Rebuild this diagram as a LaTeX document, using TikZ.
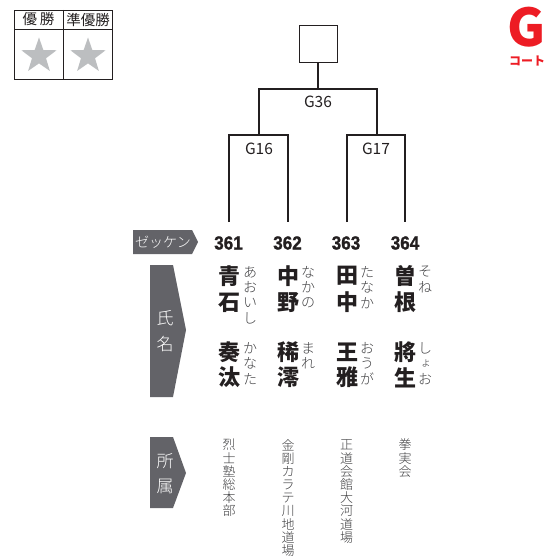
\documentclass[tikz,border=0pt]{standalone}
\usepackage{fontspec}
\setmainfont{Noto Sans CJK JP}
\newfontfamily\jpblack[UprightFont={* Black}]{Noto Sans CJK JP}
\newfontfamily\jplight[UprightFont={* Light}]{Noto Sans CJK JP}
\newfontfamily\numfont[FakeBold=1.2]{Liberation Sans Bold}
\usetikzlibrary{shapes.geometric}
\definecolor{badge}{HTML}{636368}
\definecolor{starc}{HTML}{BCBEC0}
\definecolor{redc}{HTML}{ED1C24}
\definecolor{ink}{HTML}{231F20}
\definecolor{kana}{HTML}{404042}
\tikzset{
  line/.style={draw=ink,line width=1.8pt},
  thin box/.style={draw=ink,line width=0.8pt},
  arrow badge/.style={fill=badge,draw=none},
  star mark/.style={star,star points=5,star point ratio=2.5,fill=starc,draw=none,inner sep=0pt,minimum size=37pt},
  head/.style={inner sep=0pt,text=ink,font=\fontsize{14.5}{14.5}\selectfont},
  game/.style={inner sep=0pt,text=ink,font=\fontsize{15.5}{15.5}\selectfont},
  bib/.style={inner sep=0pt,text=ink,font=\numfont\fontsize{19}{19}\selectfont},
  kanji/.style={inner sep=0pt,text=ink,font=\jpblack\fontsize{22}{22}\selectfont},
  furi/.style={inner sep=0pt,text=kana,font=\jplight\fontsize{14}{14}\selectfont},
  aff/.style={inner sep=0pt,text=kana,font=\jplight\fontsize{13}{13}\selectfont},
  side/.style={inner sep=0pt,text=white,font=\jplight\fontsize{17}{17}\selectfont},
}
\newcommand{\vstack}[6]{% style, name, x, y, step, list
  \foreach \c [count=\i from 0] in {#6}{
    \node[#1] (#2-\i) at (#3,{#4+\i*#5}) {\c};
  }
}
\begin{document}
\begin{tikzpicture}[x=1pt,y=-1pt]
\useasboundingbox (0,0) rectangle (547,556);
% result table
\draw[thin box] (14,10) rectangle (112,79);
\draw[thin box] (14,29) -- (112,29);
\draw[thin box] (63,10) -- (63,79);
\node[head] (win) at (38.5,19.5) {優\hspace{3pt}勝};
\node[head] (second) at (88,19.5) {準優勝};
\node[star mark] (star1) at (39,56) {};
\node[star mark] (star2) at (88,56) {};
% court mark
\node[inner sep=0pt,text=redc] (court) at (527,27) {\jpblack\fontsize{52}{52}\selectfont G};
\node[inner sep=0pt,text=redc] (courtlabel) at (527,61.5) {\jpblack\fontsize{12}{12}\selectfont コート};
% bracket
\node[draw=ink,line width=1pt,minimum width=38pt,minimum height=37pt,inner sep=0pt] (champ) at (318,44.5) {};
\coordinate (j36) at (318,89);
\coordinate (c16) at (259,89);
\coordinate (c17) at (377,89);
\coordinate (j16) at (259,135);
\coordinate (j17) at (377,135);
\coordinate (l1) at (229,135);
\coordinate (l2) at (288,135);
\coordinate (l3) at (347,135);
\coordinate (l4) at (405,135);
\coordinate (e1) at (229,222);
\coordinate (e2) at (288,222);
\coordinate (e3) at (347,222);
\coordinate (e4) at (405,222);
\node[game] (g36) at (318,102) {G36};
\node[game] (g16) at (259,149) {G16};
\node[game] (g17) at (376,149) {G17};
\node[bib] (b1) at (228.5,243) {\scalebox{0.9}[1]{361}};
\node[bib] (b2) at (287.5,243) {\scalebox{0.9}[1]{362}};
\node[bib] (b3) at (346,243) {\scalebox{0.9}[1]{363}};
\node[bib] (b4) at (405,243) {\scalebox{0.9}[1]{364}};
\draw[line] (champ.south) -- (j36);
\draw[line] (j16) -- (c16) -- (c17) -- (j17);
\draw[line] (e1) -- (l1) -- (l2) -- (e2);
\draw[line] (e3) -- (l3) -- (l4) -- (e4);
% side badges
\fill[arrow badge] (133,230) -- (192,230) -- (198,242) -- (192,254) -- (133,254) -- cycle;
\node[inner sep=0pt,text=white] (bibl) at (163,242) {\jplight\fontsize{14}{14}\selectfont ゼッケン};
\fill[arrow badge] (150,265) -- (173,265) -- (186,330) -- (173,397) -- (150,397) -- cycle;
\node[side] (nm1) at (165,318) {氏};
\node[side] (nm2) at (165,344) {名};
\fill[arrow badge] (150,437) -- (173,437) -- (186,473) -- (173,508) -- (150,508) -- cycle;
\node[side] (af1) at (165,461) {所};
\node[side] (af2) at (165,486) {属};
% names
\vstack{kanji}{na}{229}{276}{26.5}{青,石}
\vstack{kanji}{nb}{229}{352}{25.5}{奏,汰}
\vstack{kanji}{nc}{288}{276}{26.5}{中,野}
\vstack{kanji}{nd}{288}{352}{25.5}{稀,澪}
\vstack{kanji}{ne}{347}{276}{26.5}{田,中}
\vstack{kanji}{nf}{347}{352}{25.5}{王,雅}
\vstack{kanji}{ng}{405}{276}{26.5}{曽,根}
\vstack{kanji}{nh}{405}{352}{25.5}{將,生}
% readings
\vstack{furi}{fa}{250}{272}{15.5}{あ,お,い,し}
\vstack{furi}{fb}{250}{348}{15.5}{か,な,た}
\vstack{furi}{fc}{308}{272}{15.5}{な,か,の}
\vstack{furi}{fd}{308}{348}{15.5}{ま,れ}
\vstack{furi}{fe}{367}{272}{15.5}{た,な,か}
\vstack{furi}{ff}{367}{348}{15.5}{お,う,が}
\vstack{furi}{fg}{425}{272}{15.5}{そ,ね}
\node[furi] (fh-0) at (425,348) {し};
\node[furi] (fh-1) at (426,363) {\fontsize{11}{11}\selectfont ょ};
\node[furi] (fh-2) at (425,379) {お};
% affiliations
\vstack{aff}{aa}{229}{445}{13.2}{烈,士,塾,総,本,部}
\vstack{aff}{ab}{288}{445}{13.2}{金,剛,カ,ラ,テ,川,地,道,場}
\vstack{aff}{ac}{346.5}{445}{13.2}{正,道,会,館,大,河,道,場}
\vstack{aff}{ad}{405}{445}{13.2}{拳,実,会}
\end{tikzpicture}
\end{document}
